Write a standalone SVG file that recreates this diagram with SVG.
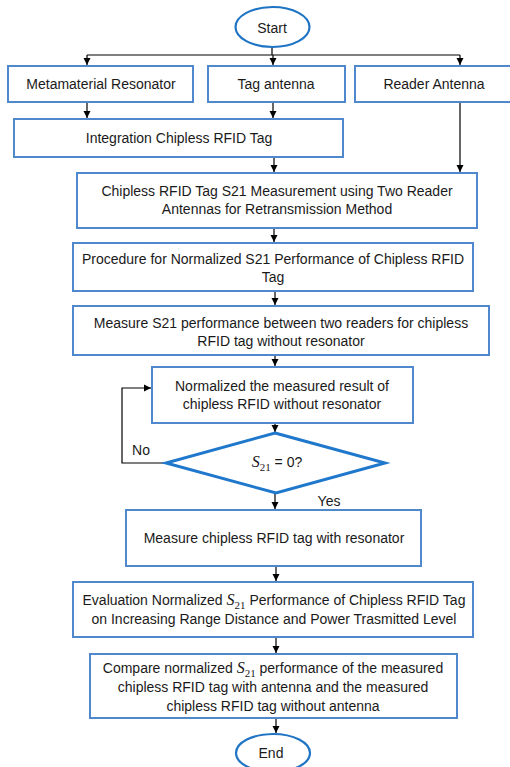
<svg xmlns="http://www.w3.org/2000/svg" width="510" height="767" viewBox="0 0 510 767">
<defs>
<marker id="ah" markerWidth="8" markerHeight="8" refX="7" refY="4" orient="auto" markerUnits="userSpaceOnUse">
<path d="M0,0.5 L7,4 L0,7.5 Z" fill="#000"/>
</marker>
<style>
.box{fill:#fff;stroke:#4f88cc;stroke-width:2}
.oval{fill:#fff;stroke:#1f74c4;stroke-width:2.2}
.dia{fill:#fff;stroke:#1f78cc;stroke-width:3}
.t{font-family:"Liberation Sans",Arial,sans-serif;font-size:14px;fill:#1a1a1a;text-anchor:middle}
.m{font-family:"Liberation Serif","Times New Roman",serif;font-style:italic;font-size:16px}
.s{font-family:"Liberation Serif","Times New Roman",serif;font-size:11px}
.c{fill:none;stroke:#000;stroke-width:1.2}
</style>
</defs>
<rect width="510" height="767" fill="#fff"/>
<g id="connectors">
<path class="c" d="M272,47 V55"/>
<path class="c" d="M87,55 H460"/>
<path class="c" d="M87,55 V65" marker-end="url(#ah)"/>
<path class="c" d="M273,55 V65" marker-end="url(#ah)"/>
<path class="c" d="M460,55 V65" marker-end="url(#ah)"/>
<path class="c" d="M87,102 V118" marker-end="url(#ah)"/>
<path class="c" d="M273,102 V118" marker-end="url(#ah)"/>
<path class="c" d="M460,102 V172" marker-end="url(#ah)"/>
<path class="c" d="M274,157 V172" marker-end="url(#ah)"/>
<path class="c" d="M274,228 V242" marker-end="url(#ah)"/>
<path class="c" d="M275,291 V305" marker-end="url(#ah)"/>
<path class="c" d="M275,355 V366" marker-end="url(#ah)"/>
<path class="c" d="M275,423 V432" marker-end="url(#ah)"/>
<path class="c" d="M166,463 H122 V388 H151" marker-end="url(#ah)"/>
<path class="c" d="M275,493 V509" marker-end="url(#ah)"/>
<path class="c" d="M276,566 V581" marker-end="url(#ah)"/>
<path class="c" d="M276,637 V653" marker-end="url(#ah)"/>
<path class="c" d="M276,718 V733" marker-end="url(#ah)"/>
<text class="t" x="141" y="455">No</text>
<text class="t" x="329" y="506">Yes</text>
</g>
<g id="start">
<ellipse class="oval" cx="272.5" cy="27" rx="37" ry="20"/>
<text class="t" x="272" y="33">Start</text>
</g>
<g id="metamaterial">
<rect class="box" x="8" y="66" width="185" height="36"/>
<text class="t" x="101" y="89">Metamaterial Resonator</text>
</g>
<g id="tag-antenna">
<rect class="box" x="208" y="66" width="137" height="36"/>
<text class="t" x="276" y="89">Tag antenna</text>
</g>
<g id="reader-antenna">
<rect class="box" x="355" y="66" width="158" height="36"/>
<text class="t" x="434" y="89">Reader Antenna</text>
</g>
<g id="integration">
<rect class="box" x="14" y="119" width="329" height="38"/>
<text class="t" x="179" y="143">Integration Chipless RFID Tag</text>
</g>
<g id="measurement">
<rect class="box" x="77" y="173" width="400" height="55"/>
<text class="t" x="277" y="196">Chipless RFID Tag S21 Measurement using Two Reader</text>
<text class="t" x="277" y="214">Antennas for Retransmission Method</text>
</g>
<g id="procedure">
<rect class="box" x="73" y="243" width="400" height="48"/>
<text class="t" x="273" y="264">Procedure for Normalized S21 Performance of Chipless RFID</text>
<text class="t" x="273" y="282">Tag</text>
</g>
<g id="measure-s21">
<rect class="box" x="73" y="306" width="416" height="49"/>
<text class="t" x="281" y="328">Measure S21 performance between two readers for chipless</text>
<text class="t" x="281" y="346">RFID tag without resonator</text>
</g>
<g id="normalized">
<rect class="box" x="152" y="367" width="261" height="56"/>
<text class="t" x="282" y="391">Normalized the measured result of</text>
<text class="t" x="282" y="409">chipless RFID without resonator</text>
</g>
<g id="decision">
<polygon class="dia" points="275,433 385,463 276,493 166,463"/>
<text class="t" x="277" y="467"><tspan class="m">S</tspan><tspan class="s" dy="4">21</tspan><tspan dy="-4"> = 0?</tspan></text>
</g>
<g id="measure-resonator">
<rect class="box" x="126" y="510" width="295" height="56"/>
<text class="t" x="274" y="543">Measure chipless RFID tag with resonator</text>
</g>
<g id="evaluation">
<rect class="box" x="73" y="582" width="400" height="55"/>
<text class="t" x="274" y="605">Evaluation Normalized <tspan class="m">S</tspan><tspan class="s" dy="4">21</tspan><tspan dy="-4"> Performance of Chipless RFID Tag</tspan></text>
<text class="t" x="274" y="624">on Increasing Range Distance and Power Trasmitted Level</text>
</g>
<g id="compare">
<rect class="box" x="90" y="654" width="367" height="64"/>
<text class="t" x="273" y="673">Compare normalized <tspan class="m">S</tspan><tspan class="s" dy="4">21</tspan><tspan dy="-4"> performance of the measured</tspan></text>
<text class="t" x="273" y="692">chipless RFID tag with antenna and the measured</text>
<text class="t" x="273" y="711">chipless RFID tag without antenna</text>
</g>
<g id="end">
<ellipse class="oval" cx="273" cy="753" rx="37" ry="19"/>
<text class="t" x="271" y="758">End</text>
</g>
</svg>
